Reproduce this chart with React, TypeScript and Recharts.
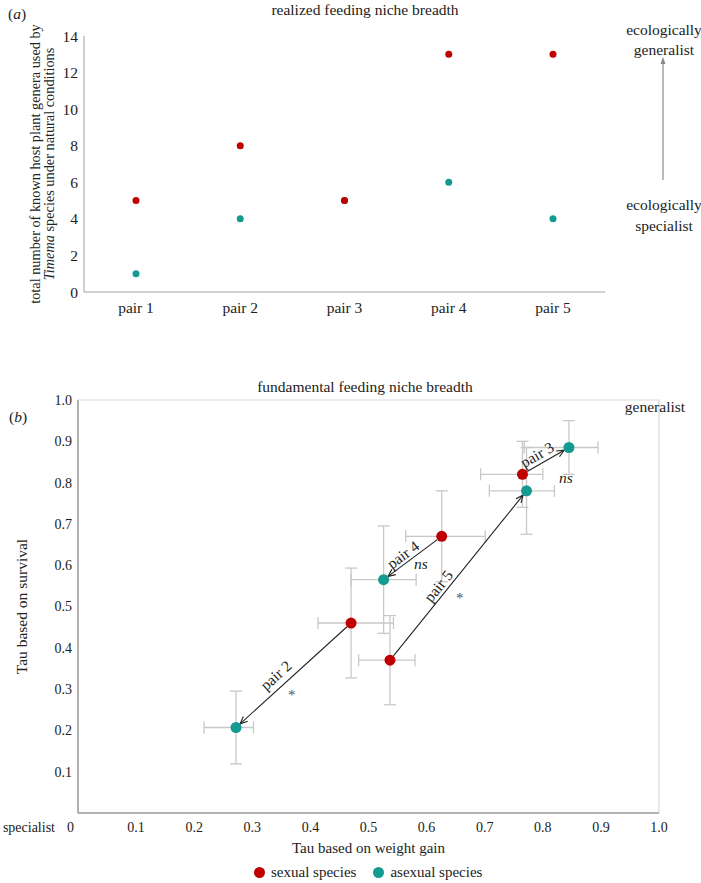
import React from 'react';
import {
  ComposedChart,
  ScatterChart,
  Scatter,
  XAxis,
  YAxis,
  ErrorBar,
  ReferenceLine,
  ReferenceArea,
} from 'recharts';

const FONT = '"Liberation Serif", "Times New Roman", serif';
const RED = '#c00000';
const TEAL = '#139a91';
const AXIS = '#a0a0a0';
const FRAME = '#d9d9d9';
const ERR = '#c8c8c8';
const INK = '#222';

// (a) realized feeding niche breadth
const pairLabels = ['pair 1', 'pair 2', 'pair 3', 'pair 4', 'pair 5'];
const sexualGenera = [5, 8, 5, 13, 13];
const asexualGenera = [1, 4, 5, 6, 4];
const generaTicks = [0, 2, 4, 6, 8, 10, 12, 14];

// (b) fundamental feeding niche breadth (pairs 2-5)
const tauPairs = ['pair 2', 'pair 3', 'pair 4', 'pair 5'];
const sexWeight = [0.47, 0.765, 0.626, 0.537];
const sexSurvival = [0.46, 0.82, 0.67, 0.37];
const sexWeightErr = [[0.057, 0.073], [0.072, 0.035], [0.062, 0.075], [0.054, 0.043]];
const sexSurvivalErr = [[0.133, 0.133], [0.08, 0.08], [0.11, 0.11], [0.108, 0.108]];
const asexWeight = [0.272, 0.845, 0.526, 0.772];
const asexSurvival = [0.207, 0.885, 0.565, 0.78];
const asexWeightErr = [[0.055, 0.03], [0.077, 0.05], [0.056, 0.056], [0.064, 0.048]];
const asexSurvivalErr = [[0.088, 0.088], [0.065, 0.065], [0.13, 0.13], [0.105, 0.105]];
const significance = ['*', 'ns', 'ns', '*'];
const tauXTicks = [0, 0.1, 0.2, 0.3, 0.4, 0.5, 0.6, 0.7, 0.8, 0.9, 1.0];
const tauYTicks = [0.1, 0.2, 0.3, 0.4, 0.5, 0.6, 0.7, 0.8, 0.9, 1.0];

const realized = pairLabels.map((pair, i) => ({
  pair,
  sexual: sexualGenera[i],
  asexual: asexualGenera[i],
}));

const sexualTau = tauPairs.map((pair, i) => ({
  pair,
  x: sexWeight[i],
  y: sexSurvival[i],
  ex: sexWeightErr[i],
  ey: sexSurvivalErr[i],
}));

const asexualTau = tauPairs.map((pair, i) => ({
  pair,
  x: asexWeight[i],
  y: asexSurvival[i],
  ex: asexWeightErr[i],
  ey: asexSurvivalErr[i],
}));

// where the annotations sit along each arrow (fraction from sexual to asexual),
// label baseline offset above the line, significance offset below it
const annot = [
  { t: 0.585, off: 6.5, sigT: 0.575, sigDist: 10 },
  { t: 0.42, off: 4.4, sigT: 1.0, sigDist: 0, sigDx: -3, sigDy: 31 },
  { t: 0.58, off: 3, sigT: 0.46, sigDist: 10 },
  { t: 0.405, off: 3.5, sigT: 0.44, sigDist: 12.5 },
];

const tickA = { fontSize: 15.5, fill: INK, fontFamily: FONT };
const tickB = { fontSize: 14, fill: INK, fontFamily: FONT };

const dot = (r: number, fill: string) => (p: any) => (
  <circle cx={p.cx} cy={p.cy} r={r} fill={fill} />
);

const arrowShape = (i: number) => (p: any) => {
  const { x1, y1, x2, y2 } = p;
  const dx = x2 - x1;
  const dy = y2 - y1;
  const len = Math.hypot(dx, dy);
  const ux = dx / len;
  const uy = dy / len;
  const r = 5.5;
  const sx = x1 + ux * r;
  const sy = y1 + uy * r;
  const ex = x2 - ux * r;
  const ey = y2 - uy * r;
  const back = Math.atan2(-uy, -ux);
  const head = 8;
  const spread = 0.42;
  const h1x = ex + head * Math.cos(back + spread);
  const h1y = ey + head * Math.sin(back + spread);
  const h2x = ex + head * Math.cos(back - spread);
  const h2y = ey + head * Math.sin(back - spread);

  const ang = dx < 0 ? Math.atan2(-dy, -dx) : Math.atan2(dy, dx);
  const deg = (ang * 180) / Math.PI;
  const nx = Math.sin(ang);
  const ny = -Math.cos(ang);
  const a: any = annot[i];
  const lx = x1 + dx * a.t + nx * a.off;
  const ly = y1 + dy * a.t + ny * a.off;
  const gx = x1 + dx * a.sigT - nx * a.sigDist + (a.sigDx || 0);
  const gy = y1 + dy * a.sigT - ny * a.sigDist + (a.sigDy || 0);
  const sig = significance[i];
  const italic = sig === 'ns';

  return (
    <g>
      <line x1={sx} y1={sy} x2={ex} y2={ey} stroke={INK} strokeWidth={1.1} />
      <polyline
        points={`${h1x},${h1y} ${ex},${ey} ${h2x},${h2y}`}
        fill="none"
        stroke={INK}
        strokeWidth={1.1}
      />
      <text
        x={lx}
        y={ly}
        transform={`rotate(${deg} ${lx} ${ly})`}
        textAnchor="middle"
        fontSize={15.5}
        fontFamily={FONT}
        fill={INK}
      >
        {tauPairs[i]}
      </text>
      <text
        x={gx}
        y={gy}
        dy={italic ? '0.32em' : '0.6em'}
        textAnchor="middle"
        fontSize={italic ? 15.5 : 15}
        fontStyle={italic ? 'italic' : 'normal'}
        fontFamily={FONT}
        fill={italic ? INK : '#555'}
      >
        {sig}
      </text>
    </g>
  );
};

const TauXTick = (p: any) => {
  const { x, y, payload } = p;
  if (payload.value === 0) {
    return (
      <g>
        <text x={x - 23} y={y} dy="0.71em" textAnchor="end" {...tickB}>
          specialist
        </text>
        <text x={x - 4} y={y} dy="0.71em" textAnchor="end" {...tickB}>
          0
        </text>
      </g>
    );
  }
  return (
    <text x={x} y={y} dy="0.71em" textAnchor="middle" {...tickB}>
      {payload.value.toFixed(1)}
    </text>
  );
};

const abs = (left: number, top: number): React.CSSProperties => ({
  position: 'absolute',
  left,
  top,
});

export default function App() {
  return (
    <div
      style={{
        position: 'absolute',
        left: 0,
        top: 0,
        width: 701,
        height: 883,
        background: '#fff',
        fontFamily: FONT,
        color: INK,
        overflow: 'hidden',
      }}
    >
      {/* panel (a) */}
      <div style={abs(0, 0)}>
        <ComposedChart
          width={701}
          height={330}
          data={realized}
          margin={{ top: 36, right: 96, bottom: 8, left: 0 }}
        >
          <XAxis
            dataKey="pair"
            height={30}
            padding={{ left: 52, right: 52 }}
            tickLine={false}
            tickSize={0}
            tickMargin={10}
            axisLine={{ stroke: AXIS }}
            tick={tickA}
          />
          <YAxis
            width={84}
            domain={[0, 14]}
            ticks={generaTicks}
            tickLine={false}
            tickSize={0}
            tickMargin={6}
            axisLine={{ stroke: AXIS }}
            tick={tickA}
            label={{
              content: ({ viewBox }: any) => {
                const cy = viewBox.y + viewBox.height / 2;
                return (
                  <g fontFamily={FONT} fontSize={14.3} fill={INK}>
                    <text x={40} y={cy} transform={`rotate(-90 40 ${cy})`} textAnchor="middle">
                      total number of known host plant genera used by
                    </text>
                    <text x={54} y={cy} transform={`rotate(-90 54 ${cy})`} textAnchor="middle">
                      <tspan fontStyle="italic">Timema</tspan> species under natural conditions
                    </text>
                  </g>
                );
              },
            }}
          />
          <Scatter dataKey="asexual" name="asexual species" shape={dot(3.5, TEAL)} isAnimationActive={false} />
          <Scatter dataKey="sexual" name="sexual species" shape={dot(3.5, RED)} isAnimationActive={false} />
        </ComposedChart>
      </div>

      {/* panel (a) annotations */}
      <svg width={701} height={330} style={{ ...abs(0, 0), pointerEvents: 'none' }}>
        <g fontFamily={FONT} fontSize={15.5} fill={INK}>
          <text x={8} y={19}>
            (<tspan fontStyle="italic">a</tspan>)
          </text>
          <text x={365} y={15} textAnchor="middle">realized feeding niche breadth</text>
          <text x={664} y={35} textAnchor="middle">ecologically</text>
          <text x={664} y={55} textAnchor="middle">generalist</text>
          <text x={664} y={210} textAnchor="middle">ecologically</text>
          <text x={664} y={231} textAnchor="middle">specialist</text>
        </g>
        <line x1={663} y1={180} x2={663} y2={62} stroke="#888" strokeWidth={1.2} />
        <polygon points="663,57 660.5,64 665.5,64" fill="#888" />
      </svg>

      {/* panel (b) */}
      <div style={abs(0, 360)}>
        <ScatterChart width={701} height={523} margin={{ top: 40, right: 42, bottom: 39, left: 0 }}>
          <ReferenceArea
            x1={0}
            x2={1}
            y1={0}
            y2={1}
            fill="none"
            stroke={FRAME}
            strokeWidth={1.2}
            ifOverflow="visible"
          />
          <XAxis
            type="number"
            dataKey="x"
            domain={[0, 1]}
            ticks={tauXTicks}
            height={31}
            tickLine={false}
            tickSize={0}
            tickMargin={9}
            axisLine={{ stroke: AXIS, strokeWidth: 1.5 }}
            tick={<TauXTick />}
            label={{
              content: ({ viewBox }: any) => (
                <text
                  x={viewBox.x + viewBox.width / 2}
                  y={viewBox.y + 40}
                  textAnchor="middle"
                  fontFamily={FONT}
                  fontSize={15}
                  fill={INK}
                >
                  Tau based on weight gain
                </text>
              ),
            }}
          />
          <YAxis
            type="number"
            dataKey="y"
            width={78}
            domain={[0, 1]}
            ticks={tauYTicks}
            tickFormatter={(v: number) => v.toFixed(1)}
            tickLine={false}
            tickSize={0}
            tickMargin={6}
            axisLine={{ stroke: AXIS, strokeWidth: 1.5 }}
            tick={tickB}
            label={{
              content: ({ viewBox }: any) => {
                const cy = viewBox.y + viewBox.height / 2;
                return (
                  <text
                    x={27}
                    y={cy}
                    transform={`rotate(-90 27 ${cy})`}
                    textAnchor="middle"
                    fontFamily={FONT}
                    fontSize={15.5}
                    fill={INK}
                  >
                    Tau based on survival
                  </text>
                );
              },
            }}
          />
          <Scatter name="sexual species" data={sexualTau} shape={dot(5.5, RED)} isAnimationActive={false}>
            <ErrorBar dataKey="ex" direction="x" width={6} stroke={ERR} strokeWidth={1.3} />
            <ErrorBar dataKey="ey" direction="y" width={6} stroke={ERR} strokeWidth={1.3} />
          </Scatter>
          <Scatter name="asexual species" data={asexualTau} shape={dot(5.5, TEAL)} isAnimationActive={false}>
            <ErrorBar dataKey="ex" direction="x" width={6} stroke={ERR} strokeWidth={1.3} />
            <ErrorBar dataKey="ey" direction="y" width={6} stroke={ERR} strokeWidth={1.3} />
          </Scatter>
          {tauPairs.map((p, i) => (
            <ReferenceLine
              key={p}
              segment={[
                { x: sexWeight[i], y: sexSurvival[i] },
                { x: asexWeight[i], y: asexSurvival[i] },
              ]}
              ifOverflow="visible"
              shape={arrowShape(i)}
            />
          ))}
        </ScatterChart>
      </div>

      {/* panel (b) annotations */}
      <svg width={701} height={75} style={{ ...abs(0, 360), pointerEvents: 'none' }}>
        <g fontFamily={FONT} fontSize={15.5} fill={INK}>
          <text x={365} y={32} textAnchor="middle">fundamental feeding niche breadth</text>
          <text x={655} y={52} textAnchor="middle">generalist</text>
          <text x={9} y={62}>
            (<tspan fontStyle="italic">b</tspan>)
          </text>
        </g>
      </svg>

      {/* legend */}
      <div
        style={{
          ...abs(254, 862),
          display: 'flex',
          alignItems: 'center',
          fontSize: 15,
          lineHeight: '20px',
          whiteSpace: 'nowrap',
        }}
      >
        <span style={{ display: 'inline-block', width: 11, height: 11, borderRadius: 6, background: RED, marginRight: 6 }} />
        <span style={{ marginRight: 17 }}>sexual species</span>
        <span style={{ display: 'inline-block', width: 11, height: 11, borderRadius: 6, background: TEAL, marginRight: 6 }} />
        <span>asexual species</span>
      </div>
    </div>
  );
}
